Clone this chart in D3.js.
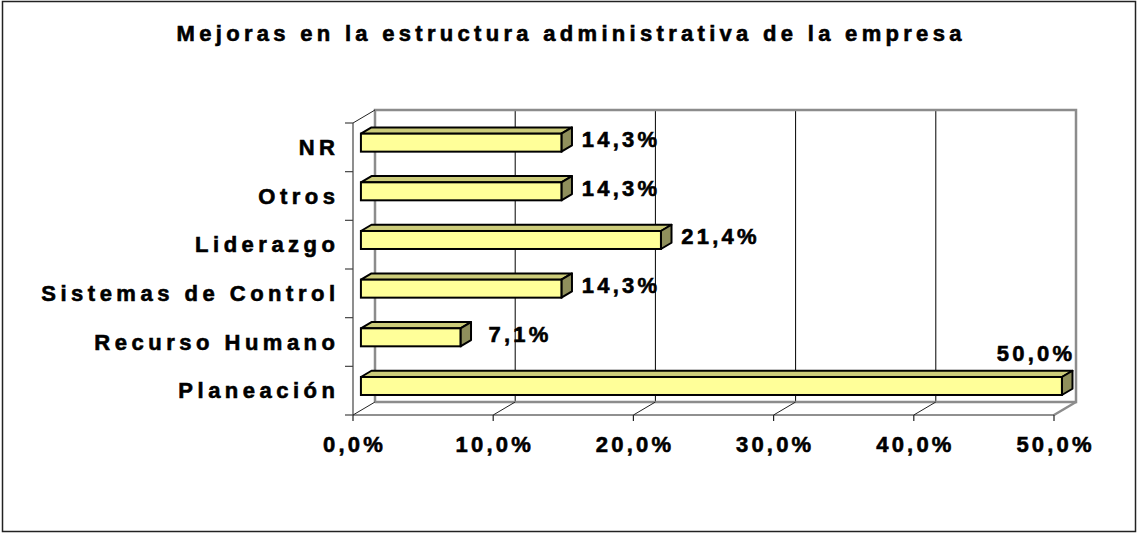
<!DOCTYPE html>
<html>
<head>
<meta charset="utf-8">
<script src="https://cdn.jsdelivr.net/npm/d3@7"></script>
<style>
  html, body { margin: 0; padding: 0; background: #fff; }
  svg { display: block; }
  text { font-family: "Liberation Sans", Arial, sans-serif; font-weight: bold; fill: #000; stroke: #000; stroke-width: 0.6px; }
</style>
</head>
<body>
<svg id="chart" width="1137" height="533"></svg>
<script>
// ---- data ----
const title = "Mejoras en la estructura administrativa de la empresa";
const categories = ["NR", "Otros", "Liderazgo", "Sistemas de Control", "Recurso Humano", "Planeación"];
const values = [0.143, 0.143, 0.214, 0.143, 0.071, 0.50];
const tickValues = [0, 0.1, 0.2, 0.3, 0.4, 0.5];

// ---- layout ----
const W = 1137, H = 533;
const svg = d3.select("#chart");
const fmt = d3.formatLocale({ decimal: ",", thousands: ".", grouping: [3], currency: ["", ""] }).format(".1%");

const front = { x0: 353, x1: 1054, yTop: 123, yBottom: 415 };
const depth = { dx: 22, dy: -13 };
const x = d3.scaleLinear().domain([0, 0.5]).range([front.x0, front.x1]);
const y = d3.scaleBand().domain(categories).range([front.yTop, front.yBottom]).padding(0);

// outer border
svg.append("rect").attr("x", 2.5).attr("y", 1.5).attr("width", W - 4).attr("height", H - 3)
  .attr("fill", "#fff").attr("stroke", "#222").attr("stroke-width", 1.5);

const FS = "22px";
// title
const LS = 4.3;
svg.append("text").attr("x", 569 + LS / 2).attr("y", 41).attr("text-anchor", "middle")
  .style("font-size", FS).style("letter-spacing", LS + "px").text(title);

const gray = "#8c8c8c";
const g = svg.append("g");
const backTop = front.yTop + depth.dy, backBottom = front.yBottom + depth.dy;

// back wall gridlines
g.selectAll(".grid").data(tickValues.slice(1, -1)).join("line")
  .attr("x1", d => x(d) + depth.dx).attr("x2", d => x(d) + depth.dx)
  .attr("y1", backTop).attr("y2", backBottom)
  .attr("stroke", "#000").attr("stroke-width", 1);
// back wall border
g.append("path")
  .attr("d", `M${x(0) + depth.dx},${backBottom} L${x(0) + depth.dx},${backTop} L${x(0.5) + depth.dx},${backTop} L${x(0.5) + depth.dx},${backBottom} L${x(0) + depth.dx},${backBottom}`)
  .attr("fill", "none").attr("stroke", gray).attr("stroke-width", 2.5);
// left wall top diagonal
g.append("line").attr("x1", x(0)).attr("y1", front.yTop).attr("x2", x(0) + depth.dx).attr("y2", backTop)
  .attr("stroke", "#222").attr("stroke-width", 1);
// floor diagonals
g.selectAll(".fd").data(tickValues).join("line")
  .attr("x1", d => x(d)).attr("y1", front.yBottom)
  .attr("x2", d => x(d) + depth.dx).attr("y2", backBottom)
  .attr("stroke", (d, i) => i === tickValues.length - 1 ? gray : "#222")
  .attr("stroke-width", (d, i) => i === tickValues.length - 1 ? 2.5 : 1);
// front left vertical axis
g.append("line").attr("x1", x(0)).attr("x2", x(0)).attr("y1", front.yTop).attr("y2", front.yBottom)
  .attr("stroke", "#444").attr("stroke-width", 1.2);
// front floor edge (x axis)
g.append("line").attr("x1", x(0)).attr("x2", x(0.5)).attr("y1", front.yBottom).attr("y2", front.yBottom)
  .attr("stroke", "#222").attr("stroke-width", 1.2);
// x ticks
g.selectAll(".xt").data(tickValues).join("line")
  .attr("x1", d => x(d)).attr("x2", d => x(d)).attr("y1", front.yBottom).attr("y2", front.yBottom + 6)
  .attr("stroke", "#222").attr("stroke-width", 1.2);
// y ticks (band boundaries)
const yBounds = categories.map(c => y(c)).concat([front.yBottom]);
g.selectAll(".yt").data(yBounds).join("line")
  .attr("x1", x(0) - 8).attr("x2", x(0)).attr("y1", d => d).attr("y2", d => d)
  .attr("stroke", "#444").attr("stroke-width", 1.2);

// x tick labels
const TLS = 3.2;
g.selectAll(".xl").data(tickValues).join("text")
  .attr("x", d => x(d) + TLS / 2).attr("y", 452).attr("text-anchor", "middle")
  .style("font-size", FS).style("letter-spacing", TLS + "px").text(d => fmt(d));

// category labels
const CLS = 4.5;
g.selectAll(".cl").data(categories).join("text")
  .attr("x", 335 + CLS).attr("y", d => y(d) + y.bandwidth() / 2 + 7.5).attr("text-anchor", "end")
  .style("font-size", FS).style("letter-spacing", CLS + "px").text(d => d);

// 3D bars
const f0 = 0.36, f1 = 0.84, barH = 18;
const bars = categories.map((c, i) => ({ c, v: values[i] }));
const bg = svg.append("g");
bars.forEach(b => {
  const cy = y(b.c) + y.bandwidth() / 2 + f0 * depth.dy;
  const xa = x(0) + f0 * depth.dx, xb = x(b.v) + f0 * depth.dx;
  const ya = cy - barH / 2, yb = cy + barH / 2;
  const ddx = (f1 - f0) * depth.dx, ddy = (f1 - f0) * depth.dy;
  bg.append("path").attr("d", `M${xa},${ya} L${xa + ddx},${ya + ddy} L${xb + ddx},${ya + ddy} L${xb},${ya} Z`)
    .attr("fill", "#cccc7a").attr("stroke", "#000").attr("stroke-width", 2).attr("stroke-linejoin", "round");
  bg.append("path").attr("d", `M${xb},${ya} L${xb + ddx},${ya + ddy} L${xb + ddx},${yb + ddy} L${xb},${yb} Z`)
    .attr("fill", "#8f8f5c").attr("stroke", "#000").attr("stroke-width", 2).attr("stroke-linejoin", "round");
  bg.append("rect").attr("x", xa).attr("y", ya).attr("width", xb - xa).attr("height", barH)
    .attr("fill", "#ffff99").attr("stroke", "#000").attr("stroke-width", 2);
});

// value labels
const VLS = 3.2;
bars.forEach(b => {
  const cy = y(b.c) + y.bandwidth() / 2;
  const xe = x(b.v) + f0 * depth.dx;
  const t = bg.append("text").style("font-size", FS).style("letter-spacing", VLS + "px").text(fmt(b.v));
  if (xe + 100 > x(0.5) + depth.dx) {
    t.attr("x", x(b.v) + depth.dx - 4 + VLS).attr("y", cy - 30).attr("text-anchor", "end");
  } else {
    t.attr("x", xe + 58 + VLS / 2).attr("y", cy - 0.5).attr("text-anchor", "middle");
  }
});
</script>
</body>
</html>
